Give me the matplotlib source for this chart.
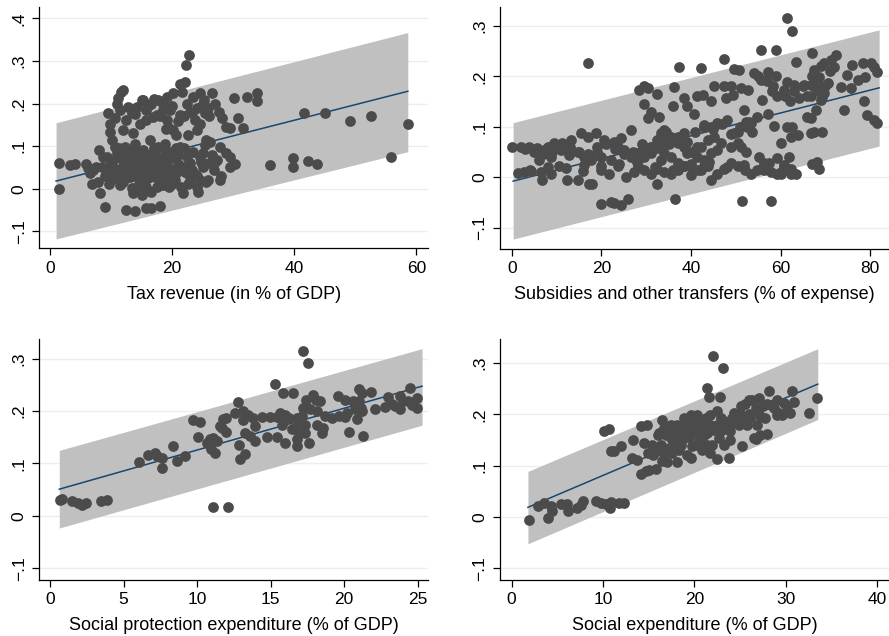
import matplotlib
matplotlib.use("Agg")
import matplotlib.pyplot as plt

plt.rcParams['font.family'] = ['Liberation Sans', 'DejaVu Sans']

# ---------------- Panel 1: tax revenue ----------------
tax_x = [1.4, 1.4, 3.3, 4.1,
         12.5, 13.4, 14.2, 15.0, 15.8, 16.9, 17.7, 18.5, 19.1, 20.2, 21.3, 22.1, 22.2, 22.7,
         21.7, 22.4, 22.6, 23.5, 24.5, 25.2, 25.4, 25.9, 26.5, 27.0, 27.6, 28.1, 28.9, 29.5,
         30.2, 30.8, 31.6, 32.2, 33.9, 33.9, 13.6, 14.7, 15.8, 17.5, 19.1, 20.2, 20.7, 19.4,
         21.3, 23.7, 24.5, 24.0, 25.6, 15.3, 16.6, 12.8, 12.0, 10.6, 11.5, 18.5, 19.6, 23.2,
         9.5, 9.8, 9.8, 10.1, 10.6, 10.9, 11.2, 11.7, 12.0,
         5.9, 6.3, 6.5, 6.8, 8.1, 7.9, 8.2, 7.6, 8.7, 9.3, 9.8, 10.4, 10.9, 11.5, 12.0, 12.3,
         12.6, 13.1, 13.4, 13.6, 13.9, 14.2, 14.5, 14.7, 15.0, 15.3, 15.5, 15.8, 16.1, 16.4,
         16.6, 16.9, 17.2, 17.5, 17.7, 18.0, 18.3, 18.5, 18.8, 19.1, 19.4, 19.6, 19.9, 20.2,
         20.5, 21.0, 21.3, 21.5, 21.8, 22.1, 22.4, 22.9, 23.5, 24.0, 24.3, 24.5, 25.1, 25.4,
         25.6, 25.9, 26.2, 26.5, 27.0, 27.3, 27.8, 27.9, 28.9, 29.5, 29.4, 30.3, 24.5, 23.2,
         22.4, 20.7, 17.5, 15.8, 14.7, 13.6, 12.6, 11.5, 10.4, 10.9, 13.1, 14.2, 16.9, 18.0,
         19.1, 15.3, 16.4, 17.5, 14.2, 15.3, 18.5, 19.9, 13.1, 12.0, 9.3, 8.5, 7.1, 9.8,
         9.0, 10.0, 11.0, 12.0, 13.0, 14.0, 15.0, 16.0, 17.0, 18.0, 19.0, 20.0, 21.0, 22.0, 23.0, 24.0,
         9.6, 10.7, 11.8, 12.9, 13.8, 14.9, 15.9, 16.8, 17.9, 18.9, 19.8, 20.9, 21.9, 23.8, 25.0, 26.8,
         11.3, 12.2, 13.3, 14.4, 15.6, 16.2, 17.3, 18.6, 19.5, 20.6, 22.6, 24.8, 26.0, 28.0,
         14.0, 16.0, 18.0, 20.0, 22.0, 24.0, 26.0, 17.0, 19.0, 21.0, 23.0, 25.0,
         9.0, 12.5, 13.9, 15.8, 16.6, 18.0,
         36.1, 39.8, 39.8, 41.6, 42.3, 43.8, 45.0, 49.2, 52.6, 55.9, 58.6]
tax_y = [0.061, 0.000, 0.056, 0.059,
         0.161, 0.177, 0.192, 0.208, 0.185, 0.169, 0.208, 0.185, 0.216, 0.224, 0.247, 0.251, 0.290, 0.314,
         0.228, 0.200, 0.126, 0.216, 0.224, 0.208, 0.177, 0.189, 0.224, 0.200, 0.181, 0.165, 0.146, 0.142,
         0.214, 0.165, 0.143, 0.216, 0.224, 0.207, 0.130, 0.153, 0.161, 0.173, 0.161, 0.138, 0.126, 0.146,
         0.173, 0.161, 0.153, 0.138, 0.114, 0.208, 0.200, 0.192, 0.138, 0.165, 0.185, 0.200, 0.185, 0.177,
         0.177, 0.153, 0.134, 0.114, 0.098, 0.200, 0.212, 0.228, 0.233,
         0.059, 0.048, 0.036, 0.010, 0.091, 0.016, -0.011, 0.052, 0.075, 0.044, 0.020, 0.067, 0.036, 0.009, 0.052, 0.099,
         0.075, 0.028, 0.001, -0.011, 0.106, 0.052, 0.020, 0.075, -0.015, 0.091, 0.036, 0.005, 0.059, 0.114,
         -0.007, 0.083, 0.028, 0.052, 0.099, 0.009, 0.075, 0.036, 0.106, 0.059, 0.016, 0.087, 0.044, 0.075,
         0.020, 0.059, 0.099, 0.005, -0.011, 0.040, 0.075, 0.020, 0.087, 0.005, -0.007, 0.075, 0.052, 0.103,
         0.016, 0.020, 0.110, 0.079, 0.063, 0.067, 0.099, 0.020, 0.083, 0.075, 0.052, 0.058, 0.020, 0.044,
         0.036, 0.036, 0.005, 0.036, 0.036, 0.044, 0.028, 0.036, 0.032, 0.083, 0.075, 0.087, 0.052, 0.052,
         0.036, 0.059, 0.067, 0.075, 0.005, 0.016, 0.009, 0.075, 0.052, 0.091, 0.075, 0.052, 0.044, 0.052,
         0.030, 0.060, 0.045, 0.015, 0.065, 0.085, 0.055, 0.025, 0.095, 0.040, 0.070, 0.010, 0.080, 0.050, 0.060, 0.030,
         0.010, 0.025, 0.070, 0.045, 0.060, 0.010, 0.080, 0.050, 0.020, 0.090, 0.025, 0.050, 0.095, 0.035, 0.085, 0.045,
         0.095, 0.060, 0.090, 0.035, 0.065, 0.045, 0.040, 0.065, 0.005, 0.095, 0.010, 0.062, 0.060, 0.030,
         0.175, 0.195, 0.170, 0.195, 0.170, 0.190, 0.170, 0.210, 0.140, 0.160, 0.180, 0.200,
         -0.042, -0.050, -0.052, -0.046, -0.046, -0.041,
         0.056, 0.071, 0.052, 0.177, 0.065, 0.059, 0.178, 0.160, 0.171, 0.075, 0.153]
tax_fit_x = [1.0, 58.6]
tax_fit_y = [0.018, 0.229]
tax_ci_lo = [-0.118, 0.087]
tax_ci_hi = [0.155, 0.367]

# ---------------- Panel 2: subsidies and transfers ----------------
sub_x = [0.15, 2.0, 3.9, 5.7, 8.0, 9.5, 11.3, 13.2, 15.4, 16.9, 18.8, 20.6, 22.8, 24.3, 26.6,
         1.3, 2.8, 4.2, 6.5, 8.7, 10.6, 12.4, 14.7, 16.1, 18.0, 19.9, 21.7, 23.6, 25.4, 27.3,
         6.1, 7.2, 8.7, 10.9, 12.8, 14.7, 16.1, 17.6, 19.1, 19.9, 22.1, 23.6, 25.1, 26.6, 28.1,
         29.5, 31.0, 32.5, 34.0, 35.5, 37.0, 38.5, 39.2, 40.7, 42.2,
         29.5, 31.0, 32.5, 34.0, 35.5, 37.0, 38.5, 40.0, 41.5, 43.0, 44.4, 45.9, 47.4, 48.9, 50.4,
         51.9, 53.3, 54.8, 56.3, 57.8, 59.3, 60.8, 62.3, 32.5, 28.1,
         19.9, 22.1, 22.8, 24.3, 26.0, 36.4, 51.3, 57.9, 17.3, 6.8, 17.0,
         28.3, 29.5, 30.3, 32.5, 29.5, 30.3, 31.0, 32.9, 37.4, 36.2, 35.9, 38.5, 39.2, 41.4, 42.6,
         44.4, 45.2, 47.4, 47.4, 47.8, 49.6, 49.3, 51.1, 50.7, 42.2, 40.7, 42.9, 44.4, 45.9, 48.1,
         48.9, 49.6, 50.4, 51.9, 52.6, 53.3, 37.0, 38.5, 33.3, 34.0, 41.4, 43.7, 45.2,
         55.6, 61.5, 62.6, 59.0, 63.4, 54.1, 55.6, 57.1, 58.2, 59.3, 60.8, 61.5, 63.0, 64.1, 65.3,
         66.7, 67.1, 67.5, 68.2, 68.9, 69.6, 70.5, 69.6, 71.2, 71.9, 72.3, 73.4, 74.2, 74.9, 75.7,
         76.0, 77.2, 78.3, 78.6, 79.4, 80.1, 80.9, 81.6, 80.9, 81.6, 78.9,
         67.5, 68.2, 69.0, 67.9, 66.7, 65.9, 66.7, 68.6, 69.3, 67.5, 66.7, 69.3, 68.2, 67.1, 68.6,
         63.8, 62.6, 61.5, 62.3, 58.6, 60.0,
         55.2, 57.4, 59.3, 60.8, 62.3, 63.4, 61.9, 56.3, 60.0,
         52.2, 53.7, 52.8, 54.8, 55.9, 57.1, 51.1, 52.2, 50.4, 48.9,
         33.3, 34.4, 35.5, 37.0, 38.5, 40.0, 41.4, 42.9, 34.0, 35.5, 37.0, 38.5, 33.3, 31.0, 29.5,
         32.5, 40.0, 42.2, 43.7, 44.4, 45.9, 46.7,
         3.0, 5.0, 7.0, 9.0, 11.0, 13.0, 15.0, 17.0, 19.0, 21.0, 23.0, 25.0, 27.0, 29.0, 31.0,
         33.0, 35.0, 37.0, 39.0,
         4.0, 8.0, 12.0, 16.0, 20.0, 24.0, 28.0, 32.0, 36.0, 40.0, 44.0, 48.0, 52.0, 56.0, 60.0,
         55.0, 57.0, 59.0, 61.0, 63.0, 65.0, 67.0, 69.0, 71.0, 58.0, 62.0, 66.0, 70.0,
         41.0, 43.0, 45.0, 47.0, 49.0, 51.0, 53.0]
sub_y = [0.060, 0.060, 0.060, 0.057, 0.060, 0.067, 0.067, 0.073, 0.087, 0.080, 0.087, 0.073, 0.070, 0.077, 0.093,
         0.009, 0.011, 0.013, 0.011, 0.007, 0.021, -0.006, -0.006, 0.024, -0.013, 0.014, 0.007, 0.021, 0.001, 0.011,
         0.034, 0.054, 0.040, 0.054, 0.044, 0.050, 0.040, 0.034, 0.050, 0.040, 0.034, 0.060, 0.054, 0.040, 0.047,
         0.060, 0.047, 0.057, 0.067, 0.080, 0.077, 0.074, 0.047, 0.050, 0.060,
         0.014, 0.007, 0.017, 0.011, 0.007, 0.014, 0.021, 0.004, 0.014, 0.021, -0.006, 0.007, 0.017, 0.027, 0.021,
         0.024, 0.007, 0.014, 0.027, 0.011, 0.007, 0.021, 0.007, -0.013, 0.021,
         -0.054, -0.049, -0.051, -0.056, -0.043, -0.044, -0.048, -0.048, -0.013, -0.006, 0.226,
         0.173, 0.181, 0.176, 0.165, 0.145, 0.117, 0.130, 0.120, 0.218, 0.178, 0.141, 0.156, 0.141, 0.160, 0.163,
         0.150, 0.181, 0.234, 0.181, 0.156, 0.214, 0.162, 0.176, 0.213, 0.216, 0.126, 0.103, 0.100, 0.107, 0.113,
         0.060, 0.087, 0.090, 0.133, 0.100, 0.107, 0.080, 0.087, 0.087, 0.093, 0.060, 0.074, 0.080,
         0.252, 0.315, 0.290, 0.252, 0.229, 0.206, 0.193, 0.209, 0.180, 0.160, 0.173, 0.189, 0.183, 0.156, 0.183,
         0.183, 0.246, 0.213, 0.193, 0.173, 0.166, 0.186, 0.226, 0.232, 0.219, 0.242, 0.179, 0.133, 0.203, 0.176,
         0.223, 0.193, 0.226, 0.150, 0.123, 0.226, 0.219, 0.209, 0.113, 0.108, 0.199,
         0.186, 0.173, 0.153, 0.133, 0.117, 0.120, 0.160, 0.199, 0.159, 0.090, 0.087, 0.090, 0.030, 0.026, 0.017,
         0.083, 0.100, 0.100, 0.080, 0.101, 0.067,
         0.040, 0.027, 0.037, 0.024, 0.017, 0.006, 0.040, 0.014, 0.007,
         0.110, 0.090, 0.173, 0.120, 0.153, 0.126, 0.060, 0.050, 0.067, 0.180,
         0.080, 0.090, 0.074, 0.067, 0.060, 0.050, 0.040, 0.034, 0.047, 0.040, 0.027, 0.021, 0.034, 0.060, 0.040,
         0.074, 0.021, 0.014, 0.021, 0.047, 0.054, 0.067,
         0.055, 0.050, 0.045, 0.050, 0.055, 0.060, 0.050, 0.045, 0.060, 0.065, 0.055, 0.045, 0.050, 0.065, 0.060,
         0.070, 0.065, 0.075, 0.070,
         0.015, 0.020, 0.018, 0.012, 0.022, 0.025, 0.030, 0.020, 0.015, 0.025, 0.030, 0.020, 0.015, 0.020, 0.010,
         0.200, 0.190, 0.200, 0.160, 0.170, 0.180, 0.200, 0.220, 0.210, 0.170, 0.150, 0.160, 0.180,
         0.090, 0.100, 0.095, 0.105, 0.085, 0.100, 0.110]
sub_fit_x = [0.3, 82.0]
sub_fit_y = [-0.008, 0.177]
sub_ci_lo = [-0.123, 0.0615]
sub_ci_hi = [0.108, 0.292]

# ---------------- Panel 3: social protection expenditure ----------------
spe_x = [0.68, 0.80, 1.47, 1.93, 2.15, 2.45, 3.45, 3.85, 6.07, 6.69, 7.14, 7.25, 7.59, 7.64,
         8.34, 8.61, 9.18, 9.70, 10.20, 10.09, 10.88, 11.10, 11.33, 10.92, 11.22, 10.65, 11.10, 12.13,
         11.56, 11.79, 11.67, 12.00, 12.00, 12.58, 12.80, 12.87, 12.92, 13.15, 13.26, 13.26, 13.15,
         13.49, 13.83, 13.94, 13.94, 13.60, 14.39, 14.73, 14.96, 15.30, 15.41, 15.41, 15.64, 15.82,
         15.75, 15.98, 15.98, 16.10, 16.27, 16.55, 16.43, 16.66, 16.77, 16.77, 16.82, 16.89, 16.95,
         17.11, 17.18, 17.23, 17.34, 17.34, 17.41, 17.57, 17.63, 17.68, 17.90, 18.09, 18.13, 18.13,
         18.36, 18.47, 18.54, 18.70, 19.15, 19.60, 20.06, 20.06, 20.17, 20.35, 20.63, 20.90, 21.03,
         21.03, 21.12, 21.19, 21.30, 21.80, 22.10, 22.78, 23.00, 23.23, 23.46, 23.80, 23.80, 24.03,
         24.37, 24.48, 24.59, 24.93, 24.93, 19.67, 20.74, 21.19]
spe_y = [0.031, 0.033, 0.029, 0.025, 0.020, 0.025, 0.028, 0.031, 0.102, 0.117, 0.120, 0.114, 0.111, 0.092,
         0.134, 0.104, 0.115, 0.182, 0.179, 0.151, 0.146, 0.149, 0.142, 0.128, 0.120, 0.139, 0.017, 0.017,
         0.171, 0.184, 0.168, 0.187, 0.161, 0.196, 0.217, 0.136, 0.109, 0.201, 0.118, 0.158, 0.182,
         0.193, 0.187, 0.171, 0.142, 0.152, 0.188, 0.150, 0.188, 0.252, 0.188, 0.151, 0.196, 0.235,
         0.174, 0.193, 0.139, 0.187, 0.187, 0.235, 0.165, 0.168, 0.187, 0.146, 0.133, 0.181, 0.158,
         0.190, 0.314, 0.206, 0.174, 0.158, 0.222, 0.292, 0.139, 0.203, 0.231, 0.222, 0.200, 0.174,
         0.219, 0.158, 0.168, 0.190, 0.187, 0.228, 0.222, 0.188, 0.196, 0.161, 0.219, 0.184, 0.242,
         0.219, 0.206, 0.200, 0.153, 0.236, 0.203, 0.207, 0.226, 0.214, 0.209, 0.203, 0.228, 0.220,
         0.219, 0.244, 0.211, 0.225, 0.206, 0.190, 0.203, 0.235]
spe_fit_x = [0.63, 25.3]
spe_fit_y = [0.051, 0.2475]
spe_ci_lo = [-0.023, 0.173]
spe_ci_hi = [0.125, 0.319]

# ---------------- Panel 4: social expenditure ----------------
soc_x = [1.90, 2.88, 3.54, 4.27, 3.97, 4.45, 5.36, 6.16, 6.09, 7.18, 7.55, 7.84,
         9.19, 9.73, 10.28, 10.75, 10.83, 11.74, 12.29, 10.10, 10.65, 10.83, 11.19, 11.92,
         13.12, 13.67, 13.31, 14.11, 14.84, 14.11, 14.66, 15.02, 15.75,
         14.47, 14.91, 15.39, 15.93, 16.11, 16.48, 16.66, 16.84, 16.66, 17.03, 17.39, 17.75,
         18.12, 18.30, 18.48, 18.67, 19.03, 19.21, 19.39, 19.58, 19.76, 19.94, 20.12, 20.49,
         20.67, 20.85, 21.04, 21.22, 21.40, 21.76, 21.76, 21.95,
         21.40, 21.58, 22.79, 22.06, 23.11,
         22.49, 22.68, 22.86, 23.22, 23.41, 23.77, 23.77, 22.42, 23.95, 24.13, 24.32, 24.86,
         25.05, 25.23, 25.41, 25.77, 26.14, 26.50, 26.69, 26.87, 27.05, 27.23, 27.78, 27.96,
         28.14, 28.33, 28.69, 29.06, 29.24, 29.60, 29.86, 30.51, 30.70, 30.88, 32.52, 33.43,
         25.59, 25.96, 26.32, 27.16, 26.69, 26.87, 29.06, 30.15, 27.52,
         16.30, 17.20, 17.75, 18.85, 19.58, 20.31, 20.67, 21.40, 22.13, 18.12, 17.39, 18.85,
         20.31, 22.49, 21.76, 23.22, 23.95, 24.68,
         16.0, 17.0, 18.0, 19.0, 20.0, 21.0, 22.0, 23.0, 24.0, 25.0, 26.0, 27.0, 28.0,
         15.5, 16.5, 17.5, 18.5, 19.5, 20.5, 21.5]
soc_y = [-0.005, 0.021, 0.027, 0.021, -0.001, 0.011, 0.025, 0.011, 0.025, 0.018, 0.024, 0.031,
         0.032, 0.027, 0.025, 0.018, 0.029, 0.027, 0.027, 0.167, 0.171, 0.128, 0.129, 0.138,
         0.115, 0.112, 0.151, 0.178, 0.180, 0.084, 0.089, 0.092, 0.094,
         0.144, 0.125, 0.141, 0.128, 0.164, 0.190, 0.173, 0.160, 0.125, 0.108, 0.154, 0.164,
         0.108, 0.131, 0.141, 0.180, 0.173, 0.121, 0.157, 0.199, 0.138, 0.170, 0.193, 0.186,
         0.157, 0.131, 0.134, 0.193, 0.164, 0.199, 0.125, 0.141,
         0.251, 0.233, 0.233, 0.313, 0.290,
         0.180, 0.154, 0.193, 0.141, 0.186, 0.173, 0.115, 0.114, 0.151, 0.193, 0.203, 0.180,
         0.216, 0.138, 0.193, 0.180, 0.193, 0.154, 0.212, 0.209, 0.232, 0.196, 0.193, 0.162,
         0.245, 0.219, 0.212, 0.229, 0.203, 0.199, 0.222, 0.203, 0.245, 0.225, 0.203, 0.232,
         0.220, 0.229, 0.229, 0.160, 0.153, 0.180, 0.199, 0.216, 0.216,
         0.141, 0.134, 0.147, 0.154, 0.115, 0.141, 0.173, 0.141, 0.173, 0.180, 0.180, 0.193,
         0.199, 0.206, 0.180, 0.180, 0.167, 0.186,
         0.160, 0.170, 0.150, 0.160, 0.175, 0.160, 0.170, 0.170, 0.190, 0.200, 0.200, 0.210, 0.220,
         0.120, 0.110, 0.125, 0.165, 0.180, 0.150, 0.180]
soc_fit_x = [1.78, 33.5]
soc_fit_y = [0.019, 0.259]
soc_ci_lo = [-0.052, 0.190]
soc_ci_hi = [0.089, 0.328]

panels = [
    dict(x=tax_x, y=tax_y, fx=tax_fit_x, fy=tax_fit_y, lo=tax_ci_lo, hi=tax_ci_hi,
         label="Tax revenue (in % of GDP)", xticks=[0, 20, 40, 60], xlim=(-1.75, 61.9),
         yticks=[-0.1, 0, 0.1, 0.2, 0.3, 0.4], ylim=(-0.14, 0.427),
         pos=[0.0442, 0.6096, 0.4372, 0.3794]),
    dict(x=sub_x, y=sub_y, fx=sub_fit_x, fy=sub_fit_y, lo=sub_ci_lo, hi=sub_ci_hi,
         label="Subsidies and other transfers (% of expense)", xticks=[0, 20, 40, 60, 80],
         xlim=(-2.7, 84.2), yticks=[-0.1, 0, 0.1, 0.2, 0.3], ylim=(-0.142, 0.338),
         pos=[0.5621, 0.6090, 0.4379, 0.3805]),
    dict(x=spe_x, y=spe_y, fx=spe_fit_x, fy=spe_fit_y, lo=spe_ci_lo, hi=spe_ci_hi,
         label="Social protection expenditure (% of GDP)", xticks=[0, 5, 10, 15, 20, 25],
         xlim=(-0.73, 25.7), yticks=[-0.1, 0, 0.1, 0.2, 0.3], ylim=(-0.1216, 0.338),
         pos=[0.0442, 0.0885, 0.4372, 0.3790]),
    dict(x=soc_x, y=soc_y, fx=soc_fit_x, fy=soc_fit_y, lo=soc_ci_lo, hi=soc_ci_hi,
         label="Social expenditure (% of GDP)", xticks=[0, 10, 20, 30, 40],
         xlim=(-1.31, 41.3), yticks=[-0.1, 0, 0.1, 0.2, 0.3], ylim=(-0.122, 0.3476),
         pos=[0.5621, 0.0885, 0.4379, 0.3790]),
]


def ytick_text(v):
    if abs(v) < 1e-9:
        return "0"
    s = f"{v:.1f}".replace("0.", ".")
    return s.replace("-", "\u2212")


fig = plt.figure(figsize=(8.89, 6.36), dpi=100)
fig.patch.set_facecolor("white")

for p in panels:
    ax = fig.add_axes(p["pos"])
    ax.set_facecolor("white")
    ax.fill_between(p["fx"], p["lo"], p["hi"], color="#c0c0c0", linewidth=0, zorder=1)
    ax.plot(p["fx"], p["fy"], color="#1a476f", linewidth=1.1, zorder=2)
    ax.scatter(p["x"], p["y"], s=60, color="#4b4b4b", linewidths=0, zorder=3)
    ax.set_xlim(*p["xlim"])
    ax.set_ylim(*p["ylim"])
    ax.set_xticks(p["xticks"])
    ax.set_xticklabels([str(t) for t in p["xticks"]])
    ax.set_yticks(p["yticks"])
    ax.set_yticklabels([ytick_text(t) for t in p["yticks"]], rotation=90, va="center")
    for yv in p["yticks"]:
        ax.axhline(yv, color="#e6eff1", linewidth=1.0, zorder=0)
    for side in ("top", "right"):
        ax.spines[side].set_visible(False)
    for side in ("left", "bottom"):
        ax.spines[side].set_color("black")
        ax.spines[side].set_linewidth(0.9)
    ax.tick_params(axis="both", direction="out", length=5, width=0.9, color="black",
                   labelsize=12.5, pad=4)
    ax.set_xlabel(p["label"], fontsize=13, labelpad=7)

fig.savefig("out.png", dpi=100, facecolor="white")
